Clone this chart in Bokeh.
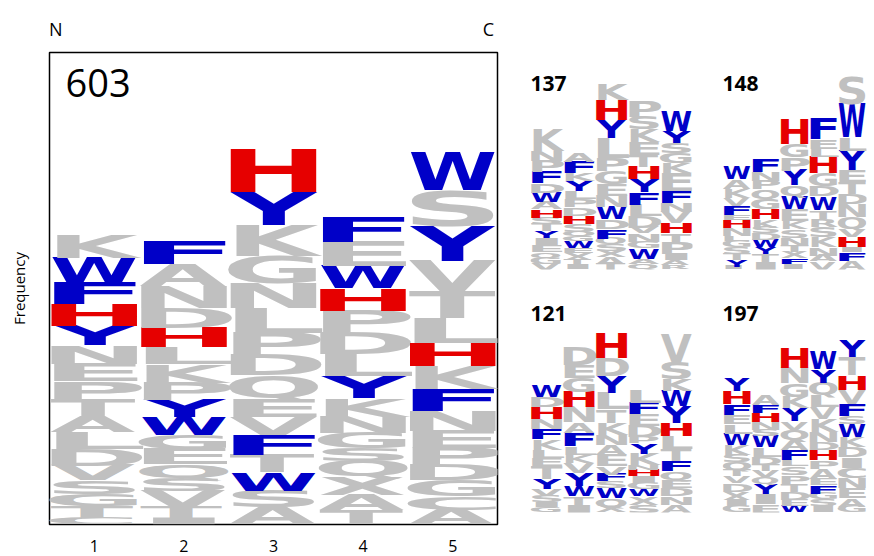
from bokeh.plotting import figure
from bokeh.layouts import row, column
from bokeh.models import ColumnDataSource, Range1d, Label, FixedTicker, LinearAxis, CustomJS
from bokeh.document import Document
from bokeh.embed import file_html
from bokeh.resources import INLINE
from bokeh.core.properties import value, field

positions = [1, 2, 3, 4, 5]
tick_labels = ["1", "2", "3", "4", "5"]
end_labels = ["N", "C"]

# Letters of each position, listed top -> bottom; heights in bits
logo603_letters = ["KWFHYNEPTALDVSGTC", "FANDHLKPYWGEQSVTI", "HYKGNLPDQEVFTWSA",
                   "FEWHPDLYKNGSQXAT", "WSYVTLHKFNEPDGCA"]
logo603_heights = [
    [.21, .22, .20, .20, .18, .17, .16, .17, .16, .14, .15, .15, .14, .12, .11, .11, .06],
    [.21, .20, .20, .18, .18, .15, .17, .16, .16, .16, .13, .14, .12, .12, .15, .10, .06],
    [.39, .30, .28, .25, .23, .22, .21, .19, .20, .17, .17, .18, .16, .17, .15, .16],
    [.22, .22, .21, .20, .20, .20, .20, .20, .17, .15, .14, .12, .14, .17, .14, .13],
    [.34, .32, .32, .28, .25, .23, .21, .21, .20, .18, .16, .16, .14, .14, .12, .14],
]

logo137_letters = ["KNPFDWAHSTYIEQGV", "AFKYLPDHSQGWEXTI", "KHYLPGENWDFQSXAT",
                   "PSKETHYFLDVNGWAQ", "WYSGKEFNVHTPIAR"]
logo137_heights = [
    [.47, .22, .25, .24, .20, .22, .16, .18, .13, .16, .13, .18, .14, .12, .13, .13],
    [.20, .24, .17, .22, .17, .18, .18, .18, .18, .11, .11, .14, .11, .13, .10, .12],
    [.33, .42, .39, .42, .29, .29, .25, .25, .28, .20, .20, .14, .14, .14, .13, .13],
    [.35, .27, .28, .28, .26, .28, .28, .25, .25, .25, .14, .18, .14, .22, .12, .12],
    [.43, .25, .22, .22, .22, .40, .24, .20, .24, .22, .20, .25, .14, .11, .09],
]

logo148_letters = ["WAKVFEHNLGSTYI", "FNPQGHKSDWYTI", "HGPYQWEKSNTXFI",
                   "FELHGDWTRSKNAV", "SWLYETDNQVHIFA"]
logo148_heights = [
    [.29, .20, .20, .17, .20, .12, .17, .17, .11, .14, .14, .14, .13, .07],
    [.27, .20, .19, .20, .22, .22, .18, .14, .13, .17, .13, .18, .17],
    [.54, .29, .29, .33, .22, .29, .25, .18, .18, .18, .14, .14, .12, .12],
    [.46, .20, .18, .36, .28, .23, .29, .18, .18, .22, .22, .18, .14, .17],
    [.58, .72, .29, .43, .25, .25, .22, .29, .25, .18, .22, .11, .18, .20],
]

logo121_letters = ["WDHNFKLETYVSIG", "DEGHNAFLKVYWTI", "HDYLTKNAEVFSWQX",
                   "LFEDPYKNHIGWXS", "VSKWYHLTFQEDNA"]
logo121_heights = [
    [.24, .23, .25, .22, .22, .22, .18, .18, .28, .23, .14, .14, .11, .11],
    [.40, .27, .31, .33, .33, .22, .29, .18, .18, .22, .29, .22, .18, .18],
    [.54, .40, .36, .36, .29, .25, .22, .22, .25, .18, .16, .13, .22, .18, .14],
    [.29, .25, .25, .25, .14, .22, .25, .11, .14, .14, .14, .14, .18, .18],
    [.62, .36, .25, .33, .36, .29, .29, .25, .22, .18, .18, .18, .18, .18],
]

logo197_letters = ["YHFELWKSQTVDXIG", "AFHNSWLDTVQYIE", "HNGKYVQAFLSPTDEW",
                   "WYQLVKNDHPAEFGSI", "YTHVFSWKDICNEAG"]
logo197_heights = [
    [.29, .29, .23, .20, .20, .25, .22, .16, .17, .14, .14, .18, .18, .14, .14],
    [.22, .18, .20, .17, .14, .24, .20, .18, .14, .14, .14, .22, .22, .18],
    [.43, .33, .29, .25, .29, .18, .22, .22, .22, .14, .18, .18, .18, .18, .14, .14],
    [.40, .27, .28, .25, .25, .29, .22, .18, .22, .18, .22, .14, .18, .14, .14, .14],
    [.36, .40, .31, .30, .25, .18, .29, .22, .22, .22, .22, .22, .22, .18, .14],
]

GREY = "#c0c0c0"
BLUE = "#0000c8"
RED = "#e60000"
COLOR = {"H": RED, "F": BLUE, "W": BLUE, "Y": BLUE}
FONT = "DejaVu Sans"
CAP = 0.729            # cap height / em  (DejaVu Sans Bold)
ASC = 0.928            # ascent / em: the "top" baseline sits here
# share of the glyph advance that is ink (DejaVu Sans Bold, approx.)
INK = {"A": .98, "C": .84, "D": .80, "E": .80, "F": .80, "G": .85, "H": .80, "I": .72,
       "K": .90, "L": .82, "M": .84, "N": .80, "P": .82, "Q": .87, "R": .88, "S": .86,
       "T": .99, "V": .99, "W": .99, "X": .98, "Y": .99}


def logo_source(letter_cols, height_cols, px_per_unit):
    xs, ys, txt, cols, sizes = [], [], [], [], []
    for pos, letters, hts in zip(positions, letter_cols, height_cols):
        base = 0.0
        for ch, h in zip(reversed(letters), reversed(hts)):
            base += h
            xs.append(pos)
            # anchor at the ascent line so that the cap top meets the slot top
            ys.append(base + h * (ASC - CAP) / CAP)
            txt.append(ch)
            cols.append(COLOR.get(ch, GREY))
            sizes.append(f"{h * px_per_unit / CAP:.2f}px")
    return ColumnDataSource(dict(x=xs, y=ys, text=txt, color=cols, size=sizes))


def draw_logo(p, src):
    p.text(x="x", y="y", text="text", source=src, text_color="color",
           text_font_size=field("size"), text_font=value(FONT), text_font_style="bold",
           text_align="center", text_baseline="top")


# ---------------- main panel ----------------
MAIN_FW, MAIN_FH, MAIN_TOP = 448, 472, 4.32
MAIN_L, MAIN_R, MAIN_T, MAIN_B = 49, 23, 52, 32
p = figure(frame_width=MAIN_FW, frame_height=MAIN_FH,
           x_range=Range1d(0.5, 5.5), y_range=Range1d(0, MAIN_TOP),
           min_border_left=MAIN_L, min_border_right=MAIN_R,
           min_border_top=MAIN_T, min_border_bottom=MAIN_B,
           output_backend="svg", toolbar_location=None)
p.grid.visible = False
p.outline_line_color = "black"
p.outline_line_width = 1.5
p.background_fill_color = "white"
p.border_fill_color = "white"

p.yaxis.ticker = FixedTicker(ticks=[])
p.yaxis.axis_line_color = None
p.yaxis.major_tick_line_color = None
p.yaxis.minor_tick_line_color = None
p.yaxis.axis_label = "Frequency"
p.yaxis.axis_label_text_font = "Open Sans"
p.yaxis.axis_label_text_font_style = "normal"
p.yaxis.axis_label_text_font_size = "15px"
p.yaxis.axis_label_text_color = "black"
p.yaxis.axis_label_standoff = 21

p.xaxis.ticker = FixedTicker(ticks=positions)
p.xaxis.major_label_overrides = {pos: lab for pos, lab in zip(positions, tick_labels)}
p.xaxis.axis_line_color = None
p.xaxis.major_tick_line_color = None
p.xaxis.minor_tick_line_color = None
p.xaxis.major_label_text_font = "Open Sans"
p.xaxis.major_label_text_font_size = "16px"
p.xaxis.major_label_text_color = "black"
p.xaxis.major_label_standoff = 9

# N / C terminus markers above the frame
end_ticks = [0.57, 5.4]
top_axis = LinearAxis(ticker=FixedTicker(ticks=end_ticks),
                      major_label_overrides={t: lab for t, lab in zip(end_ticks, end_labels)},
                      axis_line_color=None, major_tick_line_color=None,
                      minor_tick_line_color=None, major_label_text_font="Open Sans",
                      major_label_text_font_size="18px", major_label_text_color="black",
                      major_label_standoff=6)
p.add_layout(top_axis, "above")

draw_logo(p, logo_source(logo603_letters, logo603_heights, MAIN_FH / MAIN_TOP))

p.add_layout(Label(x=0.5, y=MAIN_TOP, x_offset=16, y_offset=-16, text="603",
                   text_font="Open Sans", text_font_size="38px", text_baseline="top",
                   text_color="black"))

# ---------------- small panels ----------------
SMALL_PX = 46.0


def small_panel(letters, heights, name, fw, fh, b_top, b_bottom, b_left, b_right):
    q = figure(frame_width=fw, frame_height=fh,
               x_range=Range1d(0.5, 5.5), y_range=Range1d(0, fh / SMALL_PX),
               min_border_left=b_left, min_border_right=b_right,
               min_border_top=b_top, min_border_bottom=b_bottom,
               x_axis_location=None, y_axis_location=None,
               output_backend="svg", toolbar_location=None)
    q.grid.visible = False
    q.outline_line_color = None
    q.background_fill_color = "white"
    q.border_fill_color = "white"
    draw_logo(q, logo_source(letters, heights, SMALL_PX))
    q.add_layout(Label(x=0.5, y=fh / SMALL_PX, x_offset=0, y_offset=-5, text=name,
                       text_font="Open Sans", text_font_size="21px", text_font_style="bold",
                       text_baseline="top", text_color="black"))
    return q


W_A, W_B = 162, 144          # frame widths of left / right small panels
B_RIGHT_B = 8
H_TOP, H_BOT = 199, 212
p137 = small_panel(logo137_letters, logo137_heights, "137", W_A, H_TOP, 70, 29, 10, 20)
p148 = small_panel(logo148_letters, logo148_heights, "148", W_B, H_TOP, 70, 29, 10, B_RIGHT_B)
p121 = small_panel(logo121_letters, logo121_heights, "121", W_A, H_BOT, 2, 42, 10, 20)
p197 = small_panel(logo197_letters, logo197_heights, "197", W_B, H_BOT, 2, 42, 10, B_RIGHT_B)

layout = row(p, column(row(p137, p148), row(p121, p197)))

# logo letters are stretched to the full column width (as in a sequence logo)
fig_widths = [MAIN_L + MAIN_FW + MAIN_R, 10 + W_A + 20, 10 + W_B + B_RIGHT_B]
col_widths = [MAIN_FW / 5 - 2, W_A / 5 - 1, W_B / 5 - 1]
stretch = CustomJS(args=dict(fig_widths=fig_widths, col_widths=col_widths, ink=INK,
                             family=FONT), code="""
function collect(root, out) {
  for (const el of root.querySelectorAll("*")) {
    if (el.tagName && el.tagName.toLowerCase() === "svg") out.push(el)
    if (el.shadowRoot) collect(el.shadowRoot, out)
  }
}
function run() {
  const svgs = []
  collect(document, svgs)
  for (const svg of svgs) {
    let w = parseFloat(svg.getAttribute("width"))
    if (!w) w = svg.getBoundingClientRect().width
    let target = null, best = 1e9
    for (let i = 0; i < fig_widths.length; i++) {
      const d = Math.abs(fig_widths[i] - w)
      if (d < best) { best = d; target = col_widths[i] }
    }
    if (target == null || best > 4) continue
    for (const t of svg.querySelectorAll("text")) {
      if (t.getAttribute("data-stretched")) continue
      const ff = t.getAttribute("font-family") || t.style.fontFamily || ""
      if (ff.indexOf(family.split(" ")[0]) < 0) continue
      const bb = t.getBBox()
      if (!(bb.width > 0)) continue
      const r = ink[t.textContent] || 0.85
      const s = target / (bb.width * r)
      const cx = bb.x + bb.width / 2
      const tr = t.getAttribute("transform") || ""
      t.setAttribute("transform", tr + " translate(" + cx + " 0) scale(" + s + " 1) translate(" + (-cx) + " 0)")
      t.setAttribute("data-stretched", "1")
    }
  }
}
run()
let n = 0
const id = setInterval(() => { run(); if (++n > 150) clearInterval(id) }, 20)
""")

doc = Document()
doc.add_root(layout)
doc.js_on_event("document_ready", stretch)

open("out.html", "w").write(file_html(doc, INLINE))
